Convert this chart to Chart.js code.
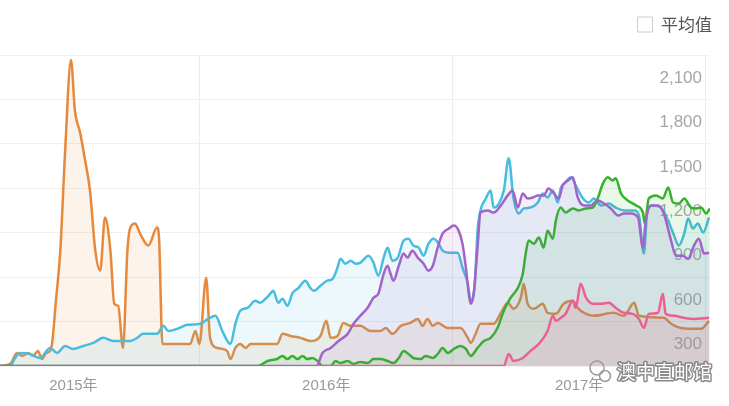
<!DOCTYPE html>
<html>
<head>
<meta charset="utf-8">
<script src="https://cdn.jsdelivr.net/npm/chart.js@4.4.0/dist/chart.umd.min.js"></script>
<style>
  html, body { margin: 0; padding: 0; background: #fff; }
  #wrap { width: 729px; height: 406px; }
</style>
</head>
<body>
<div id="wrap"><canvas id="chart"></canvas></div>
<script>
// x is in weeks from the left edge of the plot
const yearLabels = ["2015年", "2016年", "2017年"];
const yearLineWeeks = [41, 93, 145];

const orangeWeeks = [0,2.1,3.5,4.5,5.8,6.8,7.8,8.6,9.5,10.3,10.7,11.5,12.4,13.4,14.6,15.4,16.5,17.5,18.5,19.6,20.6,21.6,22.7,23.5,24.3,25.3,26.2,26.8,27.8,28.8,30.5,32.3,32.7,33.4,39.1,40.2,41.0,42.4,43.2,44.7,46.7,47.4,48.4,49.4,50.5,51.5,57.0,58.1,59.7,61.8,63.8,65.9,67.1,68.0,69.4,70.6,72.1,74.1,76.2,78.3,79.3,80.7,82.4,84.4,85.9,86.9,87.9,89.0,90.0,92.1,94.7,96.2,96.8,97.8,98.8,101.5,103.0,104.4,105.6,107.1,107.7,108.5,109.8,111.6,112.6,114.3,115.9,117.8,118.8,120.1,122.1,126.2,128.3,130.4,131.4,136.5,138.0,140.0,144.2,145.8];
const orangeValues = [0,14,88,68,88,68,102,47,88,102,149,440,779,1456,2066,1727,1572,1389,1185,779,644,1003,779,420,406,122,779,935,962,894,813,935,867,149,149,237,149,596,190,122,102,47,122,149,122,149,149,217,203,190,169,203,305,190,203,291,271,271,237,237,257,217,271,291,318,271,318,271,291,257,257,190,156,217,285,285,359,427,386,461,555,420,386,420,359,352,420,440,393,359,339,359,339,427,339,325,285,257,251,305];

const cyanWeeks = [0,2.1,3.1,4.1,6.2,8.2,10.3,11.7,13.4,15.0,17.1,19.2,21.2,23.3,24.7,26.8,28.2,29.4,32.3,33.6,34.6,36.4,38.5,41.2,42.8,44.3,45.7,47.4,48.4,49.4,50.9,52.5,53.5,54.6,55.6,56.2,57.2,58.1,59.1,60.1,61.4,62.8,63.8,64.5,65.9,67.3,68.4,69.4,70.0,71.0,72.1,73.1,74.1,75.8,76.8,77.8,78.9,79.7,80.7,81.8,83.0,84.0,85.0,86.1,87.1,88.1,89.2,90.2,91.0,92.3,94.1,95.1,96.2,96.8,97.6,98.2,98.8,99.9,100.9,101.5,102.6,103.6,104.6,105.6,106.7,107.7,109.1,110.6,111.6,112.6,113.7,114.7,115.3,116.3,117.4,118.4,119.9,121.1,122.1,123.6,125.2,126.6,128.3,130.4,131.4,132.4,133.2,134.3,135.9,137.4,138.6,139.6,140.7,141.5,142.5,143.5,144.6,145.8];
const cyanValues = [0,0,54,88,81,54,122,88,135,115,135,156,190,169,169,169,190,217,217,271,237,251,278,285,318,339,237,149,285,373,393,440,427,454,488,508,427,454,406,488,528,576,528,508,542,576,589,664,725,691,711,691,698,745,698,610,732,799,711,732,847,860,813,799,745,826,860,826,779,765,765,664,555,440,542,914,1050,1131,1185,1070,1097,1185,1402,1131,1030,1064,1070,1104,1165,1138,1185,1104,1199,1240,1274,1219,1131,1104,1131,1084,1097,1070,1050,1050,1016,759,1070,1084,1070,982,881,813,894,996,928,962,901,1003];

const purpleWeeks = [0,65.1,66.3,68.0,69.6,71.5,72.7,74.1,75.6,76.8,77.8,78.9,79.7,80.3,80.9,82.0,83.0,83.8,84.8,85.9,87.1,88.1,89.0,90.0,91.0,92.3,93.3,94.3,95.1,95.8,96.4,96.8,97.4,98.2,98.8,100.3,101.5,103.0,104.4,105.4,106.5,107.5,108.5,109.6,110.6,111.8,112.8,113.9,114.9,115.7,116.8,117.8,118.8,120.1,121.5,122.9,124.2,125.6,127.1,128.3,129.7,131.2,132.2,132.8,133.9,135.3,136.5,138.0,139.0,140.4,141.5,142.7,143.7,144.8,145.8];
const purpleValues = [0,0,88,122,169,217,285,339,393,461,488,623,677,623,576,677,759,732,779,732,691,644,677,799,894,928,948,914,826,664,488,420,488,799,1036,1050,1036,1084,1152,1185,1070,1165,1131,1138,1152,1152,1199,1165,1131,1219,1253,1274,1138,1084,1084,1118,1097,1064,1016,1030,1030,1003,799,982,1084,1084,1030,847,745,745,725,813,860,759,765];

const greenWeeks = [0,53.1,55.0,57.0,58.1,59.1,60.1,61.2,62.2,63.2,64.2,65.3,66.3,68.0,69.0,70.0,71.5,72.7,74.1,75.6,76.8,78.3,79.7,80.9,82.0,83.0,84.0,85.0,86.5,87.5,89.0,90.0,91.0,92.1,93.3,94.7,95.8,96.8,98.2,99.5,100.9,102.3,103.6,105.0,106.5,107.5,108.1,108.7,109.8,110.8,111.8,112.6,113.7,114.3,115.3,116.3,117.8,119.0,120.5,121.9,122.9,124.0,125.0,126.0,126.6,127.7,129.1,130.8,132.2,132.6,133.4,134.9,136.3,137.4,138.4,139.6,140.7,142.1,143.1,144.2,145.2,146.0];
const greenValues = [0,0,34,47,68,47,68,47,68,47,54,34,0,0,34,20,34,14,27,20,47,47,34,20,54,102,81,54,47,68,54,81,122,88,115,135,115,68,122,169,190,257,373,461,528,623,759,847,826,867,799,914,860,982,1070,1036,1064,1050,1064,1070,1131,1233,1274,1253,1267,1165,1118,1084,1036,962,1131,1152,1131,1206,1104,1097,1131,1070,1064,1070,1030,1064];

const pinkWeeks = [65,103.6,104.6,105.6,107.5,109.1,110.8,112.6,113.7,114.3,115.3,116.3,117.8,118.4,119.4,120.5,121.9,123.6,125.2,126.6,128.3,130.1,131.4,132.4,133.4,135.3,136.3,136.9,138.6,140.7,142.7,145.8];
const pinkValues = [0,0,81,34,54,102,149,237,339,305,325,352,440,393,555,461,420,420,427,393,359,352,318,257,352,359,488,352,339,325,318,325];

function toPoints(weeks, values) {
  return weeks.map((w, i) => ({ x: w, y: values[i] }));
}

function series(weeks, values, rgb) {
  return {
    data: toPoints(weeks, values),
    borderColor: `rgb(${rgb})`,
    backgroundColor: `rgba(${rgb},0.1)`,
    fill: "origin",
    borderWidth: 2.5,
    pointRadius: 0,
    tension: 0.4,
    cubicInterpolationMode: "monotone"
  };
}

// watermark in the lower right corner
const watermark = {
  id: "watermark",
  afterDraw(chart) {
    const ctx = chart.ctx;
    ctx.save();
    ctx.strokeStyle = "#9a9a9a";
    ctx.lineWidth = 1.5;
    ctx.beginPath();
    ctx.arc(597, 368, 7, 0, Math.PI * 2);
    ctx.stroke();
    ctx.beginPath();
    ctx.arc(605, 376, 5.5, 0, Math.PI * 2);
    ctx.stroke();
    ctx.font = '19px "Noto Sans CJK SC"';
    ctx.textBaseline = "middle";
    ctx.lineJoin = "round";
    ctx.lineWidth = 3;
    ctx.strokeStyle = "rgba(110,110,110,0.8)";
    ctx.strokeText("澳中直邮馆", 617, 372);
    ctx.fillStyle = "#fff";
    ctx.fillText("澳中直邮馆", 617, 372);
    ctx.restore();
  }
};

new Chart(document.getElementById("chart"), {
  type: "line",
  data: {
    datasets: [
      series(pinkWeeks, pinkValues, "236,96,144"),
      series(purpleWeeks, purpleValues, "162,100,200"),
      series(greenWeeks, greenValues, "50,180,40"),
      series(cyanWeeks, cyanValues, "72,189,224"),
      series(orangeWeeks, orangeValues, "230,137,58")
    ]
  },
  options: {
    responsive: true,
    maintainAspectRatio: false,
    animation: false,
    devicePixelRatio: 1,
    layout: { padding: { top: 4, right: 5, bottom: 0, left: 0 } },
    plugins: {
      tooltip: { enabled: false },
      // empty spacer between the legend and the plot
      subtitle: {
        display: true,
        text: "",
        weight: 500,
        padding: 0,
        font: { size: 10 }
      },
      legend: {
        position: "top",
        align: "end",
        onClick: null,
        labels: {
          boxWidth: 15,
          boxHeight: 15,
          padding: 12,
          color: "#555",
          font: { size: 17, family: '"Noto Sans CJK SC"' },
          generateLabels: () => [{
            text: "平均值",
            fillStyle: "#fff",
            strokeStyle: "#cccccc",
            lineWidth: 1,
            fontColor: "#555",
            hidden: false
          }]
        }
      }
    },
    scales: {
      x: {
        type: "linear",
        min: 0,
        max: 146,
        afterBuildTicks: axis => { axis.ticks = yearLineWeeks.map(v => ({ value: v })); },
        afterFit: axis => { axis.paddingLeft = 0; axis.paddingRight = 0; },
        grid: { color: "#ececec", drawTicks: false },
        border: { display: false },
        ticks: {
          autoSkip: false,
          maxRotation: 0,
          padding: 11,
          labelOffset: -126,
          color: "#999",
          font: { size: 15, family: '"Liberation Sans", "Noto Sans CJK SC"' },
          callback: (v, i) => yearLabels[i]
        }
      },
      y: {
        position: "right",
        min: 0,
        max: 2100,
        afterFit: axis => { axis.width = 14; },
        grid: { color: "#f0f0f0", drawTicks: false },
        border: { display: false },
        ticks: {
          stepSize: 300,
          mirror: true,
          padding: -8,
          labelOffset: 23,
          color: "#a6a6a6",
          font: { size: 17, family: '"Liberation Sans"' },
          callback: v => v === 0 ? "" : v.toLocaleString("en-US")
        }
      }
    }
  },
  plugins: [watermark]
});
</script>
</body>
</html>
